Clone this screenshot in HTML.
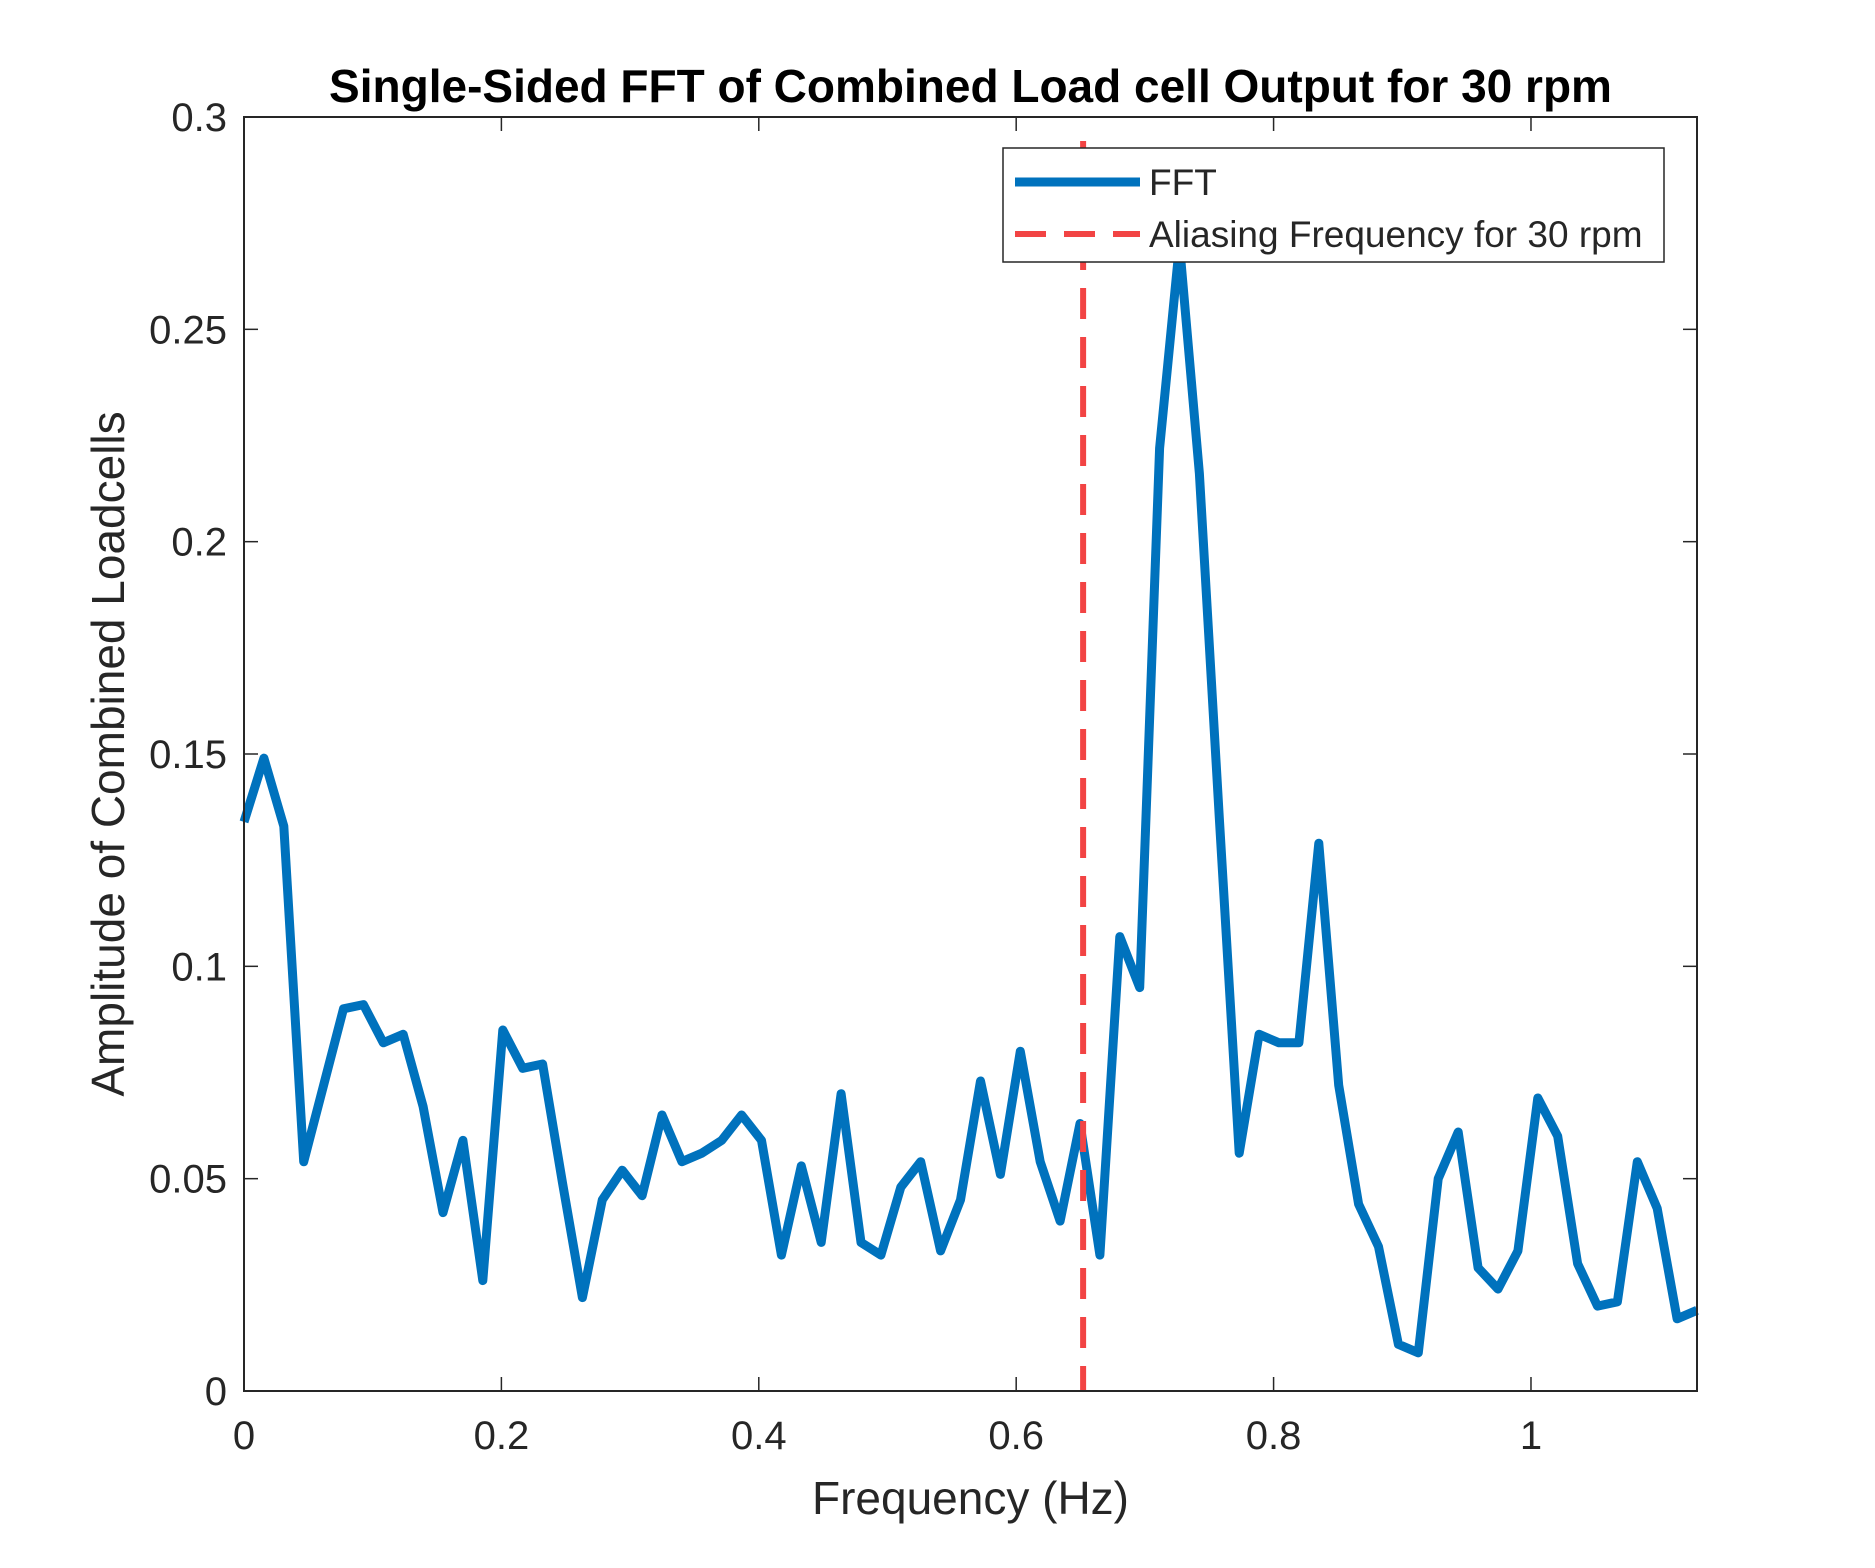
<!DOCTYPE html>
<html><head><meta charset="utf-8"><style>
body{margin:0;background:#fff}
svg text{font-family:"Liberation Sans",sans-serif;fill:#262626}
</style></head><body>
<svg id="chart" width="1875" height="1563" xmlns="http://www.w3.org/2000/svg">
<rect width="1875" height="1563" fill="#fff"/>
<g id="plot"></g>
</svg>
<script>
const amplitudes=[0.134,0.149,0.133,0.054,0.072,0.090,0.091,0.082,0.084,0.067,0.042,0.059,0.026,0.085,0.076,0.077,0.049,0.022,0.045,0.052,0.046,0.065,0.054,0.056,0.059,0.065,0.059,0.032,0.053,0.035,0.070,0.035,0.032,0.048,0.054,0.033,0.045,0.073,0.051,0.080,0.054,0.040,0.063,0.032,0.107,0.095,0.222,0.270,0.216,0.135,0.056,0.084,0.082,0.082,0.129,0.072,0.044,0.034,0.011,0.009,0.050,0.061,0.029,0.024,0.033,0.069,0.060,0.030,0.020,0.021,0.054,0.043,0.017,0.019];
const xMax=1.129;
const aliasFreq=[0.652];
const xTicks=[0,0.2,0.4,0.6,0.8,1];
const xTickLabels=["0","0.2","0.4","0.6","0.8","1"];
const yTicks=[0,0.05,0.1,0.15,0.2,0.25,0.3];
const yTickLabels=["0","0.05","0.1","0.15","0.2","0.25","0.3"];
const L=244,R=1697,T=117,B=1391;
const sx=v=>L+(v/xMax)*(R-L);
const sy=v=>B-(v/0.3)*(B-T);
const NS="http://www.w3.org/2000/svg";
const g=document.getElementById('plot');
function mk(t,a,txt){const e=document.createElementNS(NS,t);for(const k in a)e.setAttribute(k,a[k]);if(txt!==undefined)e.textContent=txt;g.appendChild(e);return e;}
xTicks.forEach((v,i)=>{const x=sx(v);
const t1=mk('line',{x1:x,y1:B,x2:x,y2:B-14,stroke:'#262626','stroke-width':1.5});

const t2=mk('line',{x1:x,y1:T,x2:x,y2:T+14,stroke:'#262626','stroke-width':1.5});

const l=mk('text',{x:x,y:B+58,'font-size':40,'text-anchor':'middle'},xTickLabels[i]);
});
yTicks.forEach((v,i)=>{const y=sy(v);
const t1=mk('line',{x1:L,y1:y,x2:L+14,y2:y,stroke:'#262626','stroke-width':1.5});

const t2=mk('line',{x1:R,y1:y,x2:R-14,y2:y,stroke:'#262626','stroke-width':1.5});

const l=mk('text',{x:L-17,y:y+14,'font-size':40,'text-anchor':'end'},yTickLabels[i]);
});
const pts=amplitudes.map((v,i)=>sx(i*xMax/(amplitudes.length-1)).toFixed(1)+','+sy(v).toFixed(1)).join(' ');
const ln=mk('polyline',{points:pts,fill:'none',stroke:'#0072BD','stroke-width':9,'stroke-linejoin':'round'});

aliasFreq.forEach(f=>{const a=mk('line',{x1:sx(f),y1:141,x2:sx(f),y2:B,stroke:'#F24444','stroke-width':6,'stroke-dasharray':'31 18'});
});
const bx=mk('rect',{x:L,y:T,width:R-L,height:B-T,fill:'none',stroke:'#262626','stroke-width':2});

const lg=mk('rect',{x:1003,y:148,width:661,height:114,fill:'#fff',stroke:'#262626','stroke-width':1.5});

const l1=mk('line',{x1:1015,y1:182,x2:1140,y2:182,stroke:'#0072BD','stroke-width':9});

const t1=mk('text',{x:1149,y:195,'font-size':37},'FFT');

const l2=mk('line',{x1:1015,y1:234,x2:1140,y2:234,stroke:'#F24444','stroke-width':6,'stroke-dasharray':'31 18'});

const t2=mk('text',{x:1149,y:247,'font-size':37},'Aliasing Frequency for 30 rpm');

const tt=mk('text',{x:(L+R)/2,y:102,'font-size':46,'font-weight':'bold','text-anchor':'middle',style:'fill:#000'},'Single-Sided FFT of Combined Load cell Output for 30 rpm');

const xl=mk('text',{x:(L+R)/2,y:1514,'font-size':46,'text-anchor':'middle'},'Frequency (Hz)');

const yl=mk('text',{x:0,y:0,'font-size':46,'text-anchor':'middle',transform:`translate(124,${(T+B)/2}) rotate(-90)`},'Amplitude of Combined Loadcells');

</script>
</body></html>
